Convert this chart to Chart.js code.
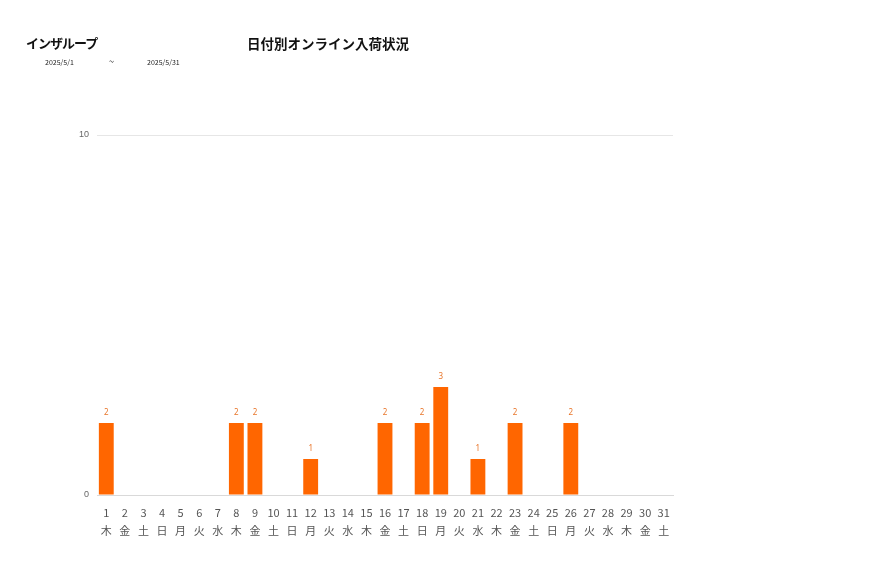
<!DOCTYPE html>
<html>
<head>
<meta charset="utf-8">
<script src="https://cdn.jsdelivr.net/npm/chart.js@4"></script>
<style>
  body { margin: 0; background: #fff; font-family: "Noto Sans CJK JP", "Noto Sans", sans-serif; }
  #wrap { position: relative; width: 877px; height: 578px; }
  #chart { position: absolute; left: 0; top: 0; }
  .t { position: absolute; white-space: nowrap; color: #111; }
  .group { left: 26px; top: 33px; font-size: 13px; letter-spacing: -1px; font-weight: bold; }
  .title { left: 247px; top: 33px; font-size: 13.5px; font-weight: bold; }
  .d { top: 57px; font-size: 7px; color: #222; }
</style>
</head>
<body>
<div id="wrap">
  <canvas id="chart" width="877" height="578"></canvas>
  <div class="t group">インザループ</div>
  <div class="t title">日付別オンライン入荷状況</div>
  <div class="t d" style="left:45px">2025/5/1</div>
  <div class="t d" style="left:109px;font-size:9px;top:55px">~</div>
  <div class="t d" style="left:147px">2025/5/31</div>
</div>
<script>
const days = ['1','2','3','4','5','6','7','8','9','10','11','12','13','14','15','16','17','18','19','20','21','22','23','24','25','26','27','28','29','30','31'];
const weekdays = ['木','金','土','日','月','火','水','木','金','土','日','月','火','水','木','金','土','日','月','火','水','木','金','土','日','月','火','水','木','金','土'];
const arrivals = [2,0,0,0,0,0,0,2,2,0,0,1,0,0,0,2,0,2,3,0,1,0,2,0,0,2,0,0,0,0,0];

// draws the value above each non-zero bar
const valueLabels = {
    id: 'valueLabels',
    afterDatasetsDraw(chart) {
        const ctx = chart.ctx;
        const meta = chart.getDatasetMeta(0);
        ctx.save();
        ctx.fillStyle = '#e8762b';
        ctx.font = '8px "Noto Sans", sans-serif';
        ctx.textAlign = 'center';
        ctx.textBaseline = 'bottom';
        meta.data.forEach((bar, i) => {
            const v = chart.data.datasets[0].data[i];
            if (v > 0) ctx.fillText(v, bar.x, bar.y - 6);
        });
        ctx.restore();
    }
};

const ctx = document.getElementById('chart').getContext('2d');
new Chart(ctx, {
    type: 'bar',
    data: {
        labels: days.map((d, i) => [d, weekdays[i]]),
        datasets: [{
            data: arrivals,
            backgroundColor: '#ff6600',
            categoryPercentage: 1,
            barPercentage: 0.8
        }]
    },
    options: {
        responsive: false,
        animation: false,
        layout: { padding: { top: 135, right: 204, left: 0, bottom: 0 } },
        plugins: { legend: { display: false }, tooltip: { enabled: false } },
        scales: {
            x: {
                afterFit: s => { s.height = 83; },
                grid: { display: false },
                border: { color: '#d9d9d9' },
                ticks: {
                    color: '#555',
                    font: { size: 11, family: '"Noto Sans CJK JP", sans-serif', lineHeight: 1.6 },
                    padding: 1,
                    maxRotation: 0,
                    autoSkip: false
                }
            },
            y: {
                min: 0,
                max: 10,
                afterFit: s => { s.width = 97; },
                grid: { color: '#e6e6e6', drawTicks: false },
                border: { display: false },
                ticks: {
                    stepSize: 10,
                    color: '#666',
                    font: { size: 9 },
                    padding: 8
                }
            }
        }
    },
    plugins: [valueLabels]
});
</script>
</body>
</html>
